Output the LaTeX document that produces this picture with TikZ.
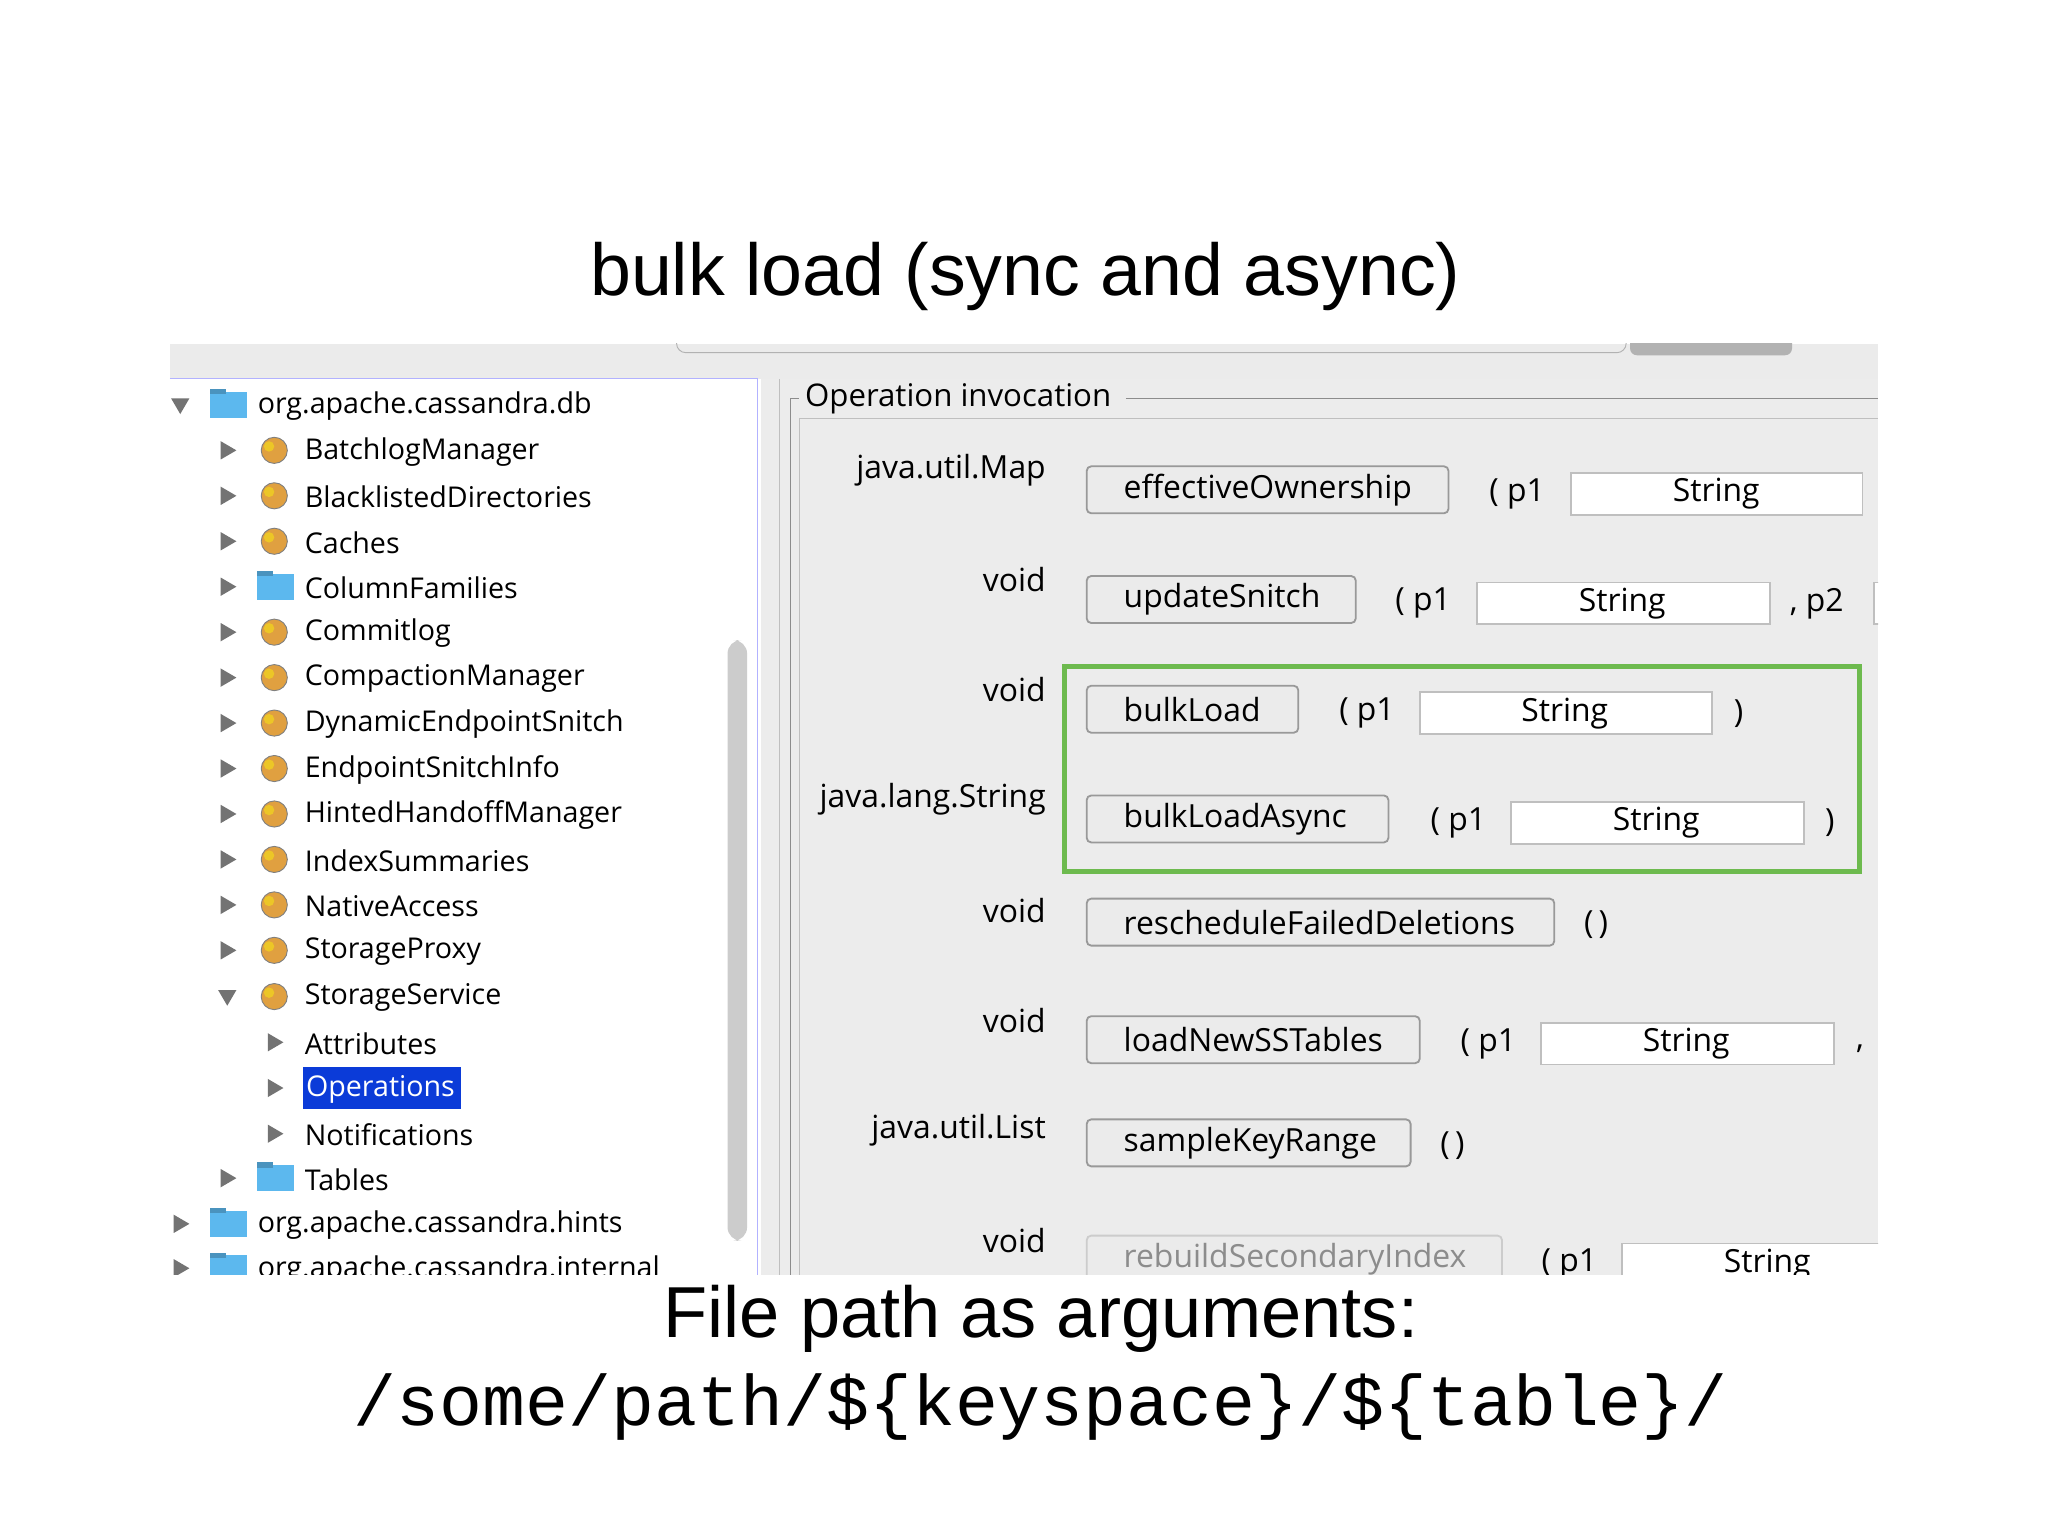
\documentclass[tikz,border=0pt]{standalone}
\usepackage{fontspec}
\setmainfont{Open Sans}
\newfontfamily\titlefont{Liberation Sans}
\newfontfamily\monofont{Liberation Mono}
\newcommand{\fpx}[1]{\pgfmathsetlengthmacro\fsz{#1*0.5669pt}\pgfmathsetlengthmacro\fbl{#1*0.68pt}\fontsize{\fsz}{\fbl}\selectfont}
\definecolor{panegray}{HTML}{ECECEC}
\definecolor{barblue}{HTML}{0B3BD8}
\definecolor{folderblue}{HTML}{5CB8EE}
\definecolor{cubeor}{HTML}{E0A040}
\definecolor{greenbox}{HTML}{6DBA4E}
\tikzset{
 x=0.02cm,y=-0.02cm,
 tree/.style={anchor=west,inner sep=0pt,font=\fpx{22}},
 tri/.style={fill=black!55,draw=none},
 btn/.style={draw=black!40,fill=white!92!black,rounded corners=2pt,line width=0.8pt},
 fld/.style={draw=black!25,fill=white,line width=0.8pt},
 lbl/.style={inner sep=0pt,font=\fpx{24.5}},
}
\newcommand{\rtri}[2]{\fill[tri] (#1-5,#2-7) -- (#1+7,#2) -- (#1-5,#2+7) -- cycle;}
\newcommand{\dtri}[2]{\fill[tri] (#1-7,#2-5) -- (#1+7,#2-5) -- (#1,#2+7) -- cycle;}
\newcommand{\cube}[2]{\fill[cubeor] (#1,#2) circle (10); \fill[cubeor!60!yellow] (#1-4,#2-3) circle (4);\draw[black!50,line width=0.4pt] (#1,#2) circle (10);}
\newcommand{\folder}[2]{\fill[folderblue] (#1-14,#2-10) rectangle (#1+14,#2+10);\fill[folderblue!80!black] (#1-14,#2-12) rectangle (#1-2,#2-8);}
\newcommand{\row}[9]{%
 \node[lbl,anchor=east] (r#1t) at (801,#3) {#2};
 \draw[btn] (832,#4-18) rectangle (#5,#4+18);
 \node[lbl,anchor=west] (r#1b) at (860,#4) {#6};
 #7}
\begin{document}
\begin{tikzpicture}
\useasboundingbox[fill=white] (0,0) rectangle (1568,1176);
\node[font=\titlefont\fpx{56.5}] (title) at (785,212) {bulk load (sync and async)};
\begin{scope}
\clip (130,263) rectangle (1438,976);
\fill[black!8] (130,263) rectangle (1438,290);
\draw[black!30,rounded corners=4pt] (518,250) -- (518,270) -- (1245,270) -- (1245,250);
\fill[black!30,rounded corners=3pt] (1248,255) rectangle (1372,272);
\fill[white] (130,290) rectangle (580,976);
\draw[blue!30] (130,290) -- (580,290) -- (580,976);
\fill[black!20,rounded corners=6pt] (557,490) rectangle (572,950);
\fill[panegray] (583,290) rectangle (1438,976);
\draw[black!25] (597,290) -- (597,976);
\draw[black!45] (605,330) -- (605,976);
\draw[black!45] (605,305) -- (612,305) (862,305) -- (1438,305);
\draw[black!45] (605,305) -- (605,330);
\draw[black!25] (612,320) -- (1438,320) (612,320) -- (612,976);
\node[anchor=west,inner sep=0pt,font=\fpx{24}] (grp) at (616,305) {Operation invocation};
% tree
\dtri{138}{310}\folder{175}{310}\node[tree] (t0) at (197,311) {org.apache.cassandra.db};
\foreach \n/\t [count=\i] in {BatchlogManager/0,BlacklistedDirectories/0,Caches/0,ColumnFamilies/1,Commitlog/0,CompactionManager/0,DynamicEndpointSnitch/0,EndpointSnitchInfo/0,HintedHandoffManager/0,IndexSummaries/0,NativeAccess/0,StorageProxy/0}{
 \pgfmathsetmacro\yy{310+34.8*\i}
 \rtri{174}{\yy}
 \ifnum\t=1 \folder{211}{\yy}\else\cube{210}{\yy}\fi
 \node[tree] (ti\i) at (233,\yy+1) {\n};
}
\dtri{174}{763}\cube{210}{763}\node[tree] (tss) at (233,764) {StorageService};
\rtri{210}{798}\node[tree] (tat) at (233,799) {Attributes};
\rtri{210}{833}\fill[barblue] (232,817) rectangle (353,849);\node[tree,text=white] (top) at (234,834) {Operations};
\rtri{210}{868}\node[tree] (tno) at (233,869) {Notifications};
\rtri{174}{902}\folder{211}{902}\node[tree] (tta) at (233,903) {Tables};
\rtri{138}{937}\folder{175}{937}\node[tree] (th) at (197,938) {org.apache.cassandra.hints};
\rtri{138}{971}\folder{175}{971}\node[tree] (tin) at (197,972) {org.apache.cassandra.internal};
% right rows
\row{1}{java.util.Map}{360}{375}{1109}{effectiveOwnership}{\node[lbl,anchor=west] (r1p) at (1140,378) {( p1};\draw[fld] (1203,362) rectangle (1426,394);\node[lbl] (r1f) at (1314,378) {String};}{}{}
\row{2}{void}{444}{459}{1038}{updateSnitch}{\node[lbl,anchor=west] (r2p) at (1068,462) {( p1};\draw[fld] (1131,446) rectangle (1355,478);\node[lbl] (r2f) at (1242,462) {String};\node[lbl,anchor=west] (r2q) at (1370,462) {, p2};\draw[fld] (1435,446) rectangle (1500,478);}{}{}
\row{3}{void}{528}{543}{994}{bulkLoad}{\node[lbl,anchor=west] (r3p) at (1025,546) {( p1};\draw[fld] (1087,530) rectangle (1311,562);\node[lbl] (r3f) at (1198,546) {String};\node[lbl] (r3c) at (1331,546) {)};}{}{}
\row{4}{java.lang.String}{612}{627}{1063}{bulkLoadAsync}{\node[lbl,anchor=west] (r4p) at (1095,630) {( p1};\draw[fld] (1157,614) rectangle (1381,646);\node[lbl] (r4f) at (1268,630) {String};\node[lbl] (r4c) at (1401,630) {)};}{}{}
\row{5}{void}{697}{706}{1190}{rescheduleFailedDeletions}{\node[lbl] (r5p) at (1222,708) {(\,)};}{}{}
\row{6}{void}{781}{796}{1087}{loadNewSSTables}{\node[lbl,anchor=west] (r6p) at (1118,799) {( p1};\draw[fld] (1180,783) rectangle (1404,815);\node[lbl] (r6f) at (1291,799) {String};\node[lbl] (r6c) at (1424,803) {,};}{}{}
\row{7}{java.util.List}{865}{875}{1080}{sampleKeyRange}{\node[lbl] (r7p) at (1112,877) {(\,)};}{}{}
\node[lbl,anchor=east] (r8t) at (801,950) {void};
\draw[btn,draw=black!20] (832,946) rectangle (1150,982);
\node[lbl,anchor=west,text=black!45] (r8b) at (860,964) {rebuildSecondaryIndex};
\node[lbl,anchor=west] (r8p) at (1180,968) {( p1};
\draw[fld] (1242,952) rectangle (1460,984);
\node[lbl] (r8f) at (1353,968) {String};
\draw[greenbox,line width=2.2pt] (815,510) rectangle (1424,667);
\end{scope}
\node[font=\titlefont\fpx{55.5}] (fp) at (797,1010) {File path as arguments:};
\node[font=\monofont\fpx{55}] (path) at (797,1077) {/some/path/\$\{keyspace\}/\$\{table\}/};
\end{tikzpicture}
\end{document}
